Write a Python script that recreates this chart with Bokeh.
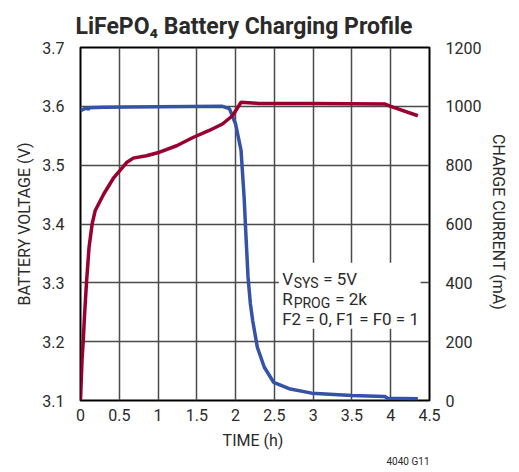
from bokeh.plotting import figure
from bokeh.models import Range1d, LinearAxis, Label, BoxAnnotation, FixedTicker, Title
from bokeh.embed import file_html
from bokeh.resources import INLINE

# ---- data ----
time_v = [0.0, 0.02, 0.035, 0.05, 0.077, 0.11, 0.15, 0.19, 0.30, 0.43, 0.60, 0.68, 0.85, 1.02,
          1.24, 1.45, 1.66, 1.83, 1.96, 2.07, 2.30, 3.0, 3.92, 4.0, 4.35]
voltage = [3.10, 3.17, 3.20, 3.24, 3.30, 3.36, 3.40, 3.423, 3.451, 3.479, 3.505, 3.512, 3.516, 3.522,
           3.533, 3.547, 3.559, 3.570, 3.584, 3.607, 3.605, 3.605, 3.604, 3.600, 3.584]

time_i = [0.0, 0.05, 0.09, 0.10, 0.11, 0.3, 1.0, 1.83, 1.92, 2.0, 2.07, 2.11, 2.13, 2.16, 2.19,
          2.22, 2.28, 2.37, 2.49, 2.69, 2.98, 3.5, 3.92, 3.96, 4.35]
current = [985, 992, 994, 988, 995, 997, 999, 1000, 992, 940, 850, 690, 578, 420, 330,
           272, 181, 113, 62, 40, 25, 17, 14, 8, 6]

x_ticks = [0, 0.5, 1, 1.5, 2, 2.5, 3, 3.5, 4, 4.5]
v_ticks = [3.1, 3.2, 3.3, 3.4, 3.5, 3.6, 3.7]
i_ticks = [0, 200, 400, 600, 800, 1000, 1200]

FONT = "Roboto"
TXT = "#2a2a2a"
RED = "#990030"
BLUE = "#3352a8"

p = figure(width=511, height=472, output_backend="svg", toolbar_location=None,
           x_range=Range1d(0, 4.5), y_range=Range1d(3.1, 3.7),
           min_border_left=80, min_border_right=79, min_border_top=47, min_border_bottom=72)
p.extra_y_ranges = {"cur": Range1d(0, 1200)}

p.title.text = "LiFePO\u2084 Battery Charging Profile"
p.title.align = "left"
p.title.text_font = FONT
p.title.text_font_size = "23px"
p.title.text_font_style = "bold"
p.title.text_color = TXT
p.title.offset = -5
p.title.standoff = 16

p.add_layout(Title(text="4040 G11", align="right", text_font=FONT, text_font_size="10px",
                   text_font_style="normal", text_color=TXT, standoff=2, offset=0), "below")

p.outline_line_color = "black"
p.outline_line_width = 2
p.outline_line_alpha = 1

p.xaxis.ticker = FixedTicker(ticks=x_ticks)
p.yaxis.ticker = FixedTicker(ticks=v_ticks)
p.xaxis.axis_label = "TIME  (h)"
p.yaxis.axis_label = "BATTERY VOLTAGE (V)"

ra = LinearAxis(y_range_name="cur", ticker=FixedTicker(ticks=i_ticks), axis_label="CHARGE CURRENT  (mA)")
p.add_layout(ra, "right")

for ax in [p.xaxis[0], p.yaxis[0], ra]:
    ax.axis_line_color = None
    ax.major_tick_line_color = None
    ax.minor_tick_line_color = None
    ax.major_label_text_font = FONT
    ax.major_label_text_font_size = "16px"
    ax.major_label_text_color = TXT
    ax.axis_label_text_font = FONT
    ax.axis_label_text_font_size = "16px"
    ax.axis_label_text_font_style = "normal"
    ax.axis_label_text_color = TXT
    ax.major_label_standoff = 10
p.xaxis.major_label_standoff = 2
p.xaxis.axis_label_standoff = 7

p.xgrid.ticker = FixedTicker(ticks=x_ticks)
p.ygrid.ticker = FixedTicker(ticks=v_ticks)
for g in [p.xgrid[0], p.ygrid[0]]:
    g.grid_line_color = "#4a4a4a"
    g.grid_line_width = 1.5
    g.grid_line_alpha = 1

box = BoxAnnotation(left=2.557, right=4.386, bottom=3.222, top=3.334,
                    fill_color="white", fill_alpha=1, line_alpha=0)
p.add_layout(box)

p.line(time_i, current, y_range_name="cur", line_color=BLUE, line_width=3.5)
p.line(time_v, voltage, line_color=RED, line_width=3.5)

fs = "17px"
sub = "14px"
def lab(x, y, t, size, xo=0, yo=0):
    p.add_layout(Label(x=x, y=y, text=t, x_offset=xo, y_offset=yo, text_font=FONT,
                       text_font_size=size, text_color=TXT, text_baseline="alphabetic"))

xl = 2.6
lab(xl, 3.307, "V", fs)
lab(xl, 3.307, "SYS", sub, xo=11.5, yo=-4)
lab(xl, 3.307, "= 5V", fs, xo=41)
lab(xl, 3.273, "R", fs)
lab(xl, 3.273, "PROG", sub, xo=11.5, yo=-4)
lab(xl, 3.273, "= 2k", fs, xo=53)
lab(xl, 3.238, "F2 = 0, F1 = F0 = 1", fs)

open("out.html", "w").write(file_html(p, INLINE))
